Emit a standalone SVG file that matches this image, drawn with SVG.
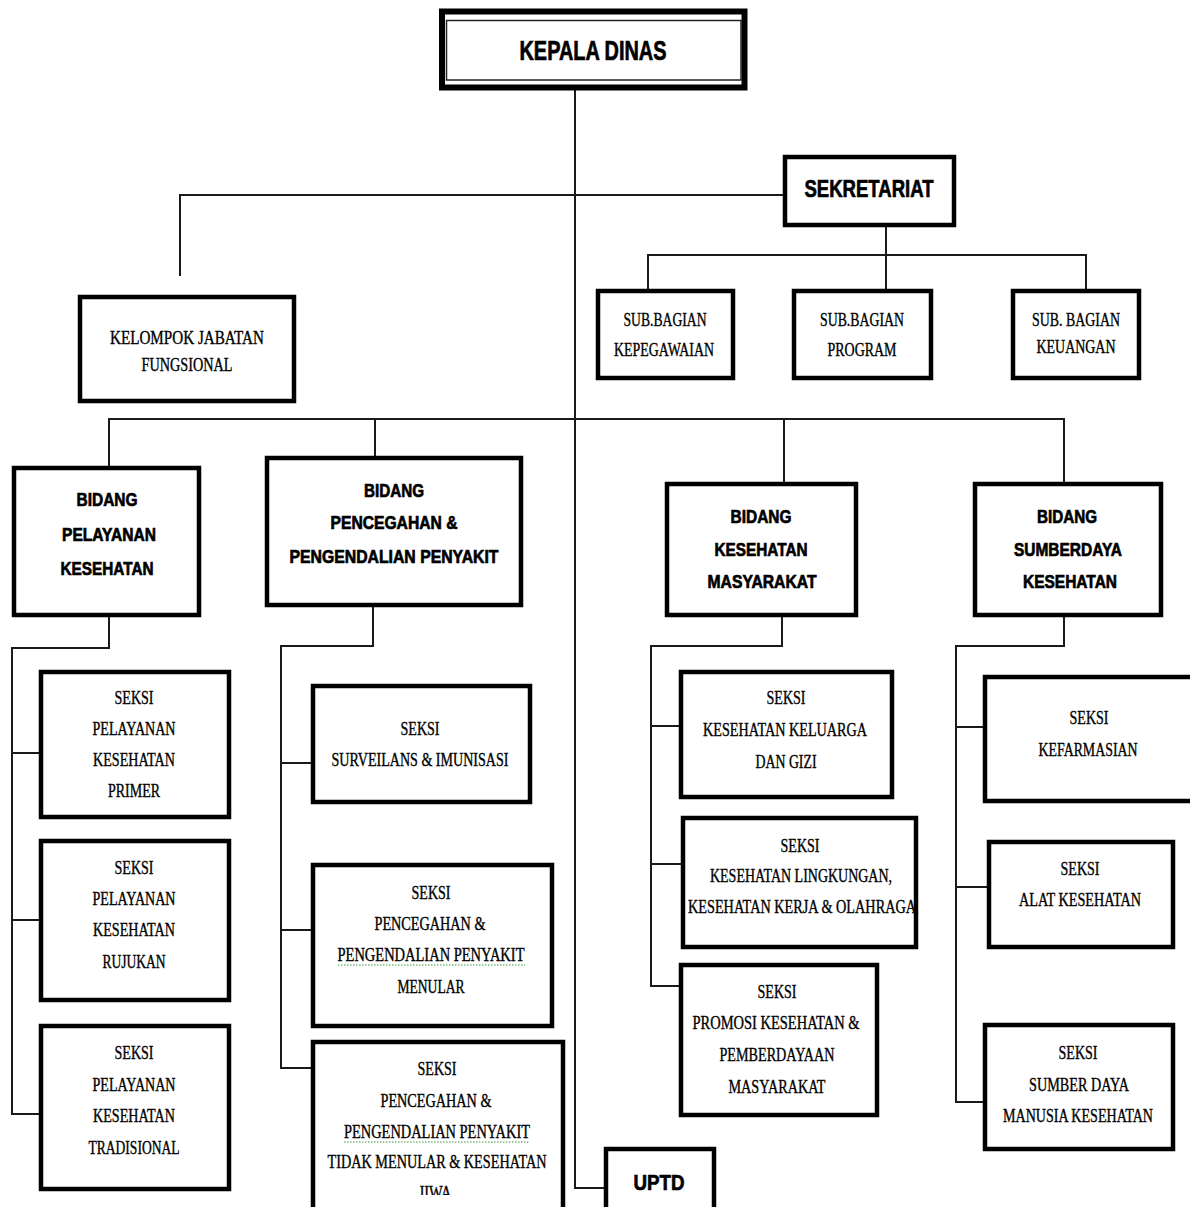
<svg xmlns="http://www.w3.org/2000/svg" width="1190" height="1207" viewBox="0 0 1190 1207">
<style>
.bg{fill:#fff}
.box{fill:#fff;stroke:#000;stroke-width:4.5}
.ln{fill:none;stroke:#1a1a1a;stroke-width:2}
.b{font-family:"Liberation Sans",Arial,sans-serif;font-weight:bold;text-anchor:middle;fill:#000;stroke:#000;stroke-width:0.7}
.s{font-family:"Liberation Serif","Times New Roman",serif;text-anchor:middle;font-size:18px;fill:#000;stroke:#000;stroke-width:0.35}
.sq{fill:none;stroke:#3a9a3a;stroke-width:1.2;stroke-dasharray:1.5 1.5}
</style>
<defs>
<clipPath id="clipJ"><rect x="312" y="1041" width="252" height="154"/></clipPath>
</defs>
<rect class="bg" x="0" y="0" width="1190" height="1207"/>

<g id="connectors">
<path class="ln" d="M575 88 V1188 H605"/>
<path class="ln" d="M784 195 H180 V276" stroke="#555" stroke-width="2.5"/>
<path class="ln" d="M886 226 V290"/>
<path class="ln" d="M648 290 V255 H1086 V290"/>
<path class="ln" d="M109 467 V419 H1064 V483"/>
<path class="ln" d="M375 419 V457"/>
<path class="ln" d="M784 419 V483"/>
<path class="ln" d="M109 616 V648 H12 V1114 H40"/>
<path class="ln" d="M12 753 H40"/>
<path class="ln" d="M12 920 H40"/>
<path class="ln" d="M373 606 V646 H281 V1068 H312"/>
<path class="ln" d="M281 763 H312"/>
<path class="ln" d="M281 930 H312"/>
<path class="ln" d="M782 616 V646 H651 V986 H680"/>
<path class="ln" d="M651 726 H680"/>
<path class="ln" d="M651 864 H682"/>
<path class="ln" d="M1064 616 V646 H956 V1102 H984"/>
<path class="ln" d="M956 727 H984"/>
<path class="ln" d="M956 887 H988"/>
</g>

<g id="kepala-dinas">
<rect x="442" y="11.5" width="302.5" height="76" fill="#fff" stroke="#000" stroke-width="6"/>
<rect x="446.5" y="20.5" width="294.5" height="59.5" fill="none" stroke="#222" stroke-width="1.5"/>
<text class="b" x="593" y="60" font-size="27" textLength="147" lengthAdjust="spacingAndGlyphs">KEPALA DINAS</text>
</g>

<g id="sekretariat">
<rect class="box" x="785" y="157" width="169" height="68"/>
<text class="b" x="869" y="197" font-size="24" textLength="129" lengthAdjust="spacingAndGlyphs">SEKRETARIAT</text>
</g>

<g id="kelompok-jabatan-fungsional">
<rect class="box" x="80" y="297" width="214" height="104"/>
<text class="s" x="187" y="344" textLength="154" lengthAdjust="spacingAndGlyphs">KELOMPOK JABATAN</text>
<text class="s" x="187" y="371" textLength="91" lengthAdjust="spacingAndGlyphs">FUNGSIONAL</text>
</g>

<g id="sub-bagian-kepegawaian">
<rect class="box" x="598" y="291" width="135" height="87"/>
<text class="s" x="665" y="326" textLength="83" lengthAdjust="spacingAndGlyphs">SUB.BAGIAN</text>
<text class="s" x="664" y="356" textLength="100" lengthAdjust="spacingAndGlyphs">KEPEGAWAIAN</text>
</g>

<g id="sub-bagian-program">
<rect class="box" x="794" y="291" width="137" height="87"/>
<text class="s" x="862" y="326" textLength="84" lengthAdjust="spacingAndGlyphs">SUB.BAGIAN</text>
<text class="s" x="862" y="356" textLength="69" lengthAdjust="spacingAndGlyphs">PROGRAM</text>
</g>

<g id="sub-bagian-keuangan">
<rect class="box" x="1013" y="291" width="126" height="87"/>
<text class="s" x="1076" y="326" textLength="88" lengthAdjust="spacingAndGlyphs">SUB. BAGIAN</text>
<text class="s" x="1076" y="353" textLength="79" lengthAdjust="spacingAndGlyphs">KEUANGAN</text>
</g>

<g id="bidang-pelayanan-kesehatan">
<rect class="box" x="14" y="468" width="185" height="147"/>
<text class="b" x="107" y="506" font-size="19" textLength="61" lengthAdjust="spacingAndGlyphs">BIDANG</text>
<text class="b" x="109" y="541" font-size="19" textLength="94" lengthAdjust="spacingAndGlyphs">PELAYANAN</text>
<text class="b" x="107" y="575" font-size="19" textLength="93" lengthAdjust="spacingAndGlyphs">KESEHATAN</text>
</g>

<g id="bidang-pencegahan">
<rect class="box" x="267" y="458" width="254" height="147"/>
<text class="b" x="394" y="497" font-size="19" textLength="60" lengthAdjust="spacingAndGlyphs">BIDANG</text>
<text class="b" x="394" y="529" font-size="19" textLength="127" lengthAdjust="spacingAndGlyphs">PENCEGAHAN  &amp;</text>
<text class="b" x="394" y="563" font-size="19" textLength="209" lengthAdjust="spacingAndGlyphs">PENGENDALIAN  PENYAKIT</text>
</g>

<g id="bidang-kesehatan-masyarakat">
<rect class="box" x="667" y="484" width="189" height="131"/>
<text class="b" x="761" y="523" font-size="19" textLength="61" lengthAdjust="spacingAndGlyphs">BIDANG</text>
<text class="b" x="761" y="556" font-size="19" textLength="93" lengthAdjust="spacingAndGlyphs">KESEHATAN</text>
<text class="b" x="762" y="588" font-size="19" textLength="109" lengthAdjust="spacingAndGlyphs">MASYARAKAT</text>
</g>

<g id="bidang-sumberdaya-kesehatan">
<rect class="box" x="975" y="484" width="186" height="131"/>
<text class="b" x="1067" y="523" font-size="19" textLength="60" lengthAdjust="spacingAndGlyphs">BIDANG</text>
<text class="b" x="1068" y="556" font-size="19" textLength="108" lengthAdjust="spacingAndGlyphs">SUMBERDAYA</text>
<text class="b" x="1070" y="588" font-size="19" textLength="94" lengthAdjust="spacingAndGlyphs">KESEHATAN</text>
</g>

<g id="seksi-primer">
<rect class="box" x="41" y="672" width="188" height="145"/>
<text class="s" x="134" y="704" textLength="39" lengthAdjust="spacingAndGlyphs">SEKSI</text>
<text class="s" x="134" y="735" textLength="83" lengthAdjust="spacingAndGlyphs">PELAYANAN</text>
<text class="s" x="134" y="766" textLength="82" lengthAdjust="spacingAndGlyphs">KESEHATAN</text>
<text class="s" x="134" y="797" textLength="52" lengthAdjust="spacingAndGlyphs">PRIMER</text>
</g>

<g id="seksi-rujukan">
<rect class="box" x="41" y="841" width="188" height="159"/>
<text class="s" x="134" y="874" textLength="39" lengthAdjust="spacingAndGlyphs">SEKSI</text>
<text class="s" x="134" y="905" textLength="83" lengthAdjust="spacingAndGlyphs">PELAYANAN</text>
<text class="s" x="134" y="936" textLength="82" lengthAdjust="spacingAndGlyphs">KESEHATAN</text>
<text class="s" x="134" y="968" textLength="63" lengthAdjust="spacingAndGlyphs">RUJUKAN</text>
</g>

<g id="seksi-tradisional">
<rect class="box" x="41" y="1026" width="188" height="163"/>
<text class="s" x="134" y="1059" textLength="39" lengthAdjust="spacingAndGlyphs">SEKSI</text>
<text class="s" x="134" y="1091" textLength="83" lengthAdjust="spacingAndGlyphs">PELAYANAN</text>
<text class="s" x="134" y="1122" textLength="82" lengthAdjust="spacingAndGlyphs">KESEHATAN</text>
<text class="s" x="134" y="1154" textLength="91" lengthAdjust="spacingAndGlyphs">TRADISIONAL</text>
</g>

<g id="seksi-surveilans">
<rect class="box" x="313" y="686" width="217" height="116"/>
<text class="s" x="420" y="735" textLength="39" lengthAdjust="spacingAndGlyphs">SEKSI</text>
<text class="s" x="420" y="766" textLength="177" lengthAdjust="spacingAndGlyphs">SURVEILANS  &amp; IMUNISASI</text>
</g>

<g id="seksi-penyakit-menular">
<rect class="box" x="313" y="865" width="239" height="161"/>
<text class="s" x="431" y="899" textLength="39" lengthAdjust="spacingAndGlyphs">SEKSI</text>
<text class="s" x="430" y="930" textLength="111" lengthAdjust="spacingAndGlyphs">PENCEGAHAN  &amp;</text>
<text class="s" x="431" y="961" textLength="187" lengthAdjust="spacingAndGlyphs">PENGENDALIAN   PENYAKIT</text>
<path class="sq" d="M338 965 H525"/>
<text class="s" x="431" y="993" textLength="67" lengthAdjust="spacingAndGlyphs">MENULAR</text>
</g>

<g id="seksi-penyakit-tidak-menular">
<rect class="box" x="313" y="1042" width="250" height="170"/>
<text class="s" x="437" y="1075" textLength="39" lengthAdjust="spacingAndGlyphs">SEKSI</text>
<text class="s" x="436" y="1107" textLength="111" lengthAdjust="spacingAndGlyphs">PENCEGAHAN  &amp;</text>
<text class="s" x="437" y="1138" textLength="186" lengthAdjust="spacingAndGlyphs">PENGENDALIAN   PENYAKIT</text>
<path class="sq" d="M344 1142 H530"/>
<text class="s" x="437" y="1168" textLength="219" lengthAdjust="spacingAndGlyphs">TIDAK  MENULAR &amp; KESEHATAN</text>
<text class="s" x="435" y="1199" clip-path="url(#clipJ)" textLength="33" lengthAdjust="spacingAndGlyphs">JIWA</text>
</g>

<g id="seksi-keluarga-gizi">
<rect class="box" x="681" y="672" width="211" height="125"/>
<text class="s" x="786" y="704" textLength="39" lengthAdjust="spacingAndGlyphs">SEKSI</text>
<text class="s" x="785" y="736" textLength="164" lengthAdjust="spacingAndGlyphs">KESEHATAN  KELUARGA</text>
<text class="s" x="786" y="768" textLength="61" lengthAdjust="spacingAndGlyphs">DAN GIZI</text>
</g>

<g id="seksi-lingkungan">
<rect class="box" x="683" y="818" width="233" height="129"/>
<text class="s" x="800" y="852" textLength="39" lengthAdjust="spacingAndGlyphs">SEKSI</text>
<text class="s" x="801" y="882" textLength="182" lengthAdjust="spacingAndGlyphs">KESEHATAN  LINGKUNGAN,</text>
<text class="s" x="802" y="913" textLength="228" lengthAdjust="spacingAndGlyphs">KESEHATAN  KERJA &amp; OLAHRAGA</text>
</g>

<g id="seksi-promosi">
<rect class="box" x="681" y="965" width="196" height="150"/>
<text class="s" x="777" y="998" textLength="39" lengthAdjust="spacingAndGlyphs">SEKSI</text>
<text class="s" x="776" y="1029" textLength="167" lengthAdjust="spacingAndGlyphs">PROMOSI KESEHATAN  &amp;</text>
<text class="s" x="777" y="1061" textLength="115" lengthAdjust="spacingAndGlyphs">PEMBERDAYAAN</text>
<text class="s" x="777" y="1093" textLength="97" lengthAdjust="spacingAndGlyphs">MASYARAKAT</text>
</g>

<g id="seksi-kefarmasian">
<rect class="box" x="985" y="677" width="210" height="124"/>
<text class="s" x="1089" y="724" textLength="39" lengthAdjust="spacingAndGlyphs">SEKSI</text>
<text class="s" x="1088" y="756" textLength="99" lengthAdjust="spacingAndGlyphs">KEFARMASIAN</text>
</g>

<g id="seksi-alat-kesehatan">
<rect class="box" x="989" y="842" width="184" height="105"/>
<text class="s" x="1080" y="875" textLength="39" lengthAdjust="spacingAndGlyphs">SEKSI</text>
<text class="s" x="1080" y="906" textLength="122" lengthAdjust="spacingAndGlyphs">ALAT KESEHATAN</text>
</g>

<g id="seksi-sdm-kesehatan">
<rect class="box" x="985" y="1025" width="188" height="124"/>
<text class="s" x="1078" y="1059" textLength="39" lengthAdjust="spacingAndGlyphs">SEKSI</text>
<text class="s" x="1079" y="1091" textLength="100" lengthAdjust="spacingAndGlyphs">SUMBER DAYA</text>
<text class="s" x="1078" y="1122" textLength="150" lengthAdjust="spacingAndGlyphs">MANUSIA  KESEHATAN</text>
</g>

<g id="uptd">
<rect class="box" x="606" y="1149" width="108" height="64"/>
<text class="b" x="659" y="1190" font-size="22" textLength="51" lengthAdjust="spacingAndGlyphs">UPTD</text>
</g>
</svg>
